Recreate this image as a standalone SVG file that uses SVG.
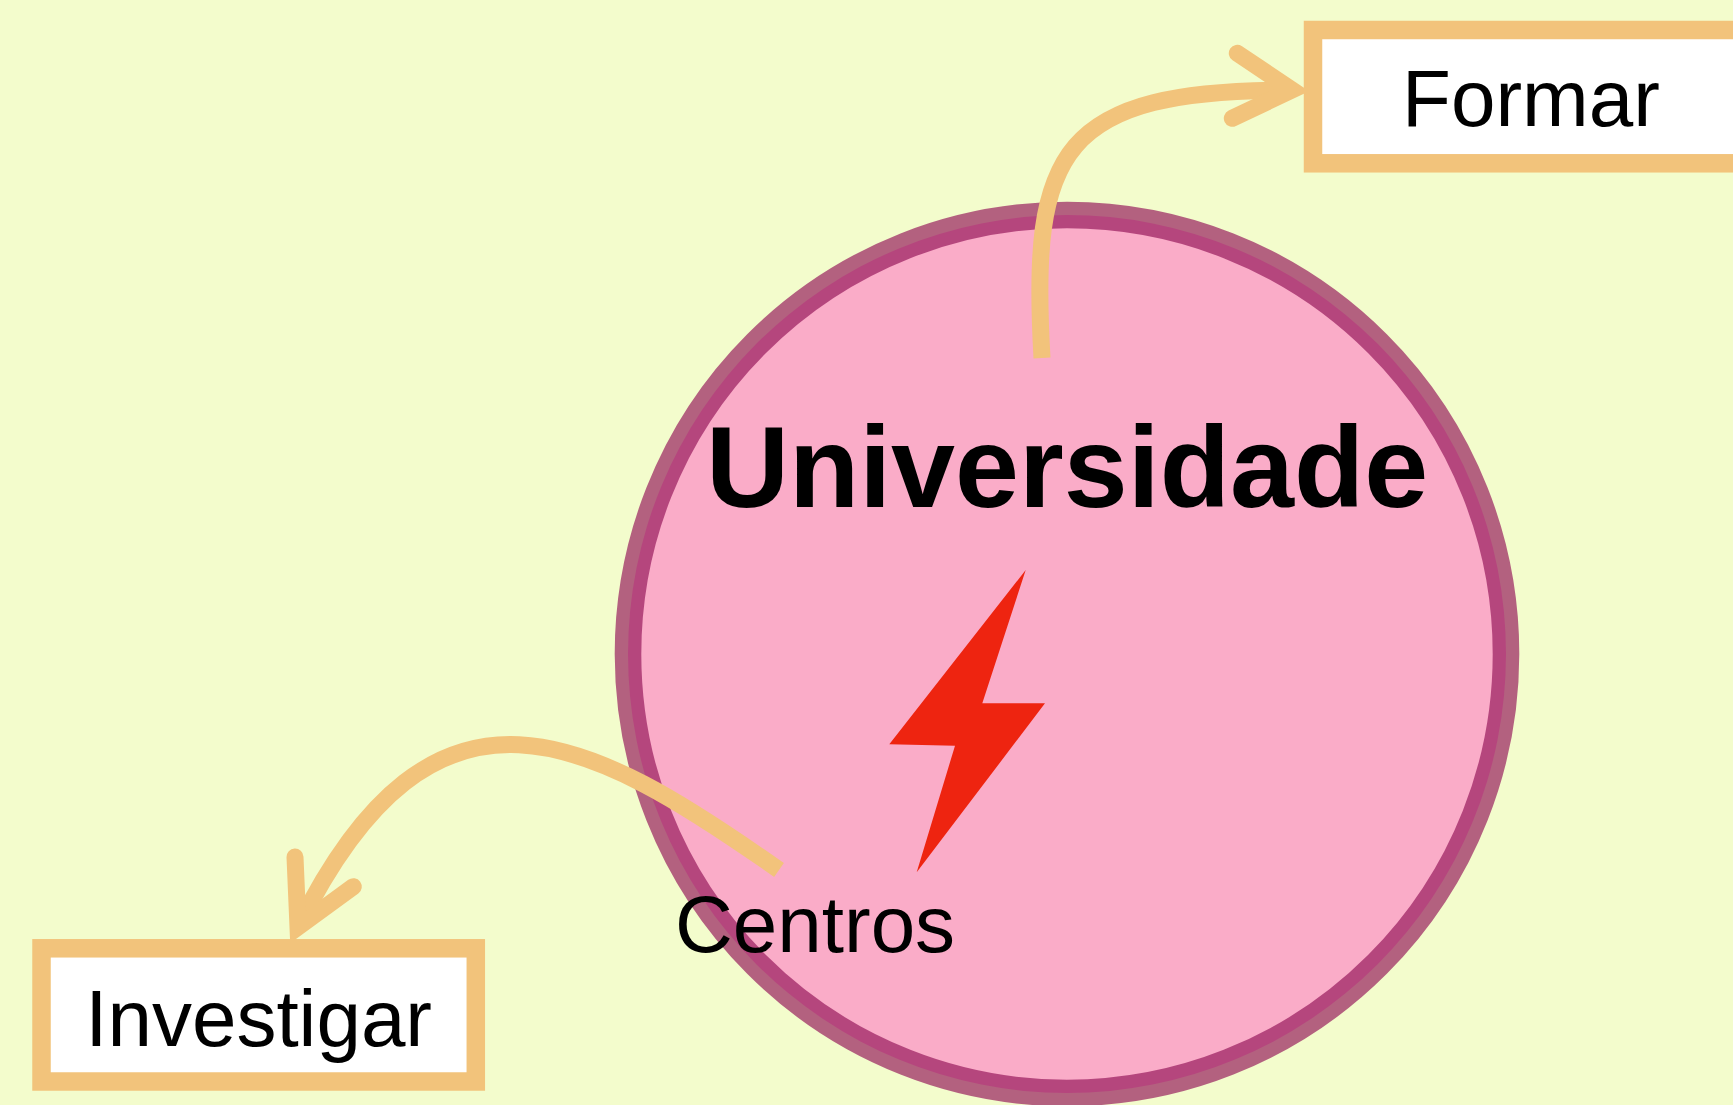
<svg xmlns="http://www.w3.org/2000/svg" width="1733" height="1105" viewBox="0 0 1733 1105">
<style>
.box{fill:#ffffff;stroke:#f2c37b;stroke-width:18.5}
.lbl{font-family:"Liberation Sans",Arial,sans-serif;font-size:80px;fill:#000000}
.shaft{fill:none;stroke:#f2c37b;stroke-width:17;stroke-linecap:butt}
.head{fill:none;stroke:#f2c37b;stroke-width:17;stroke-linecap:round;stroke-linejoin:miter;stroke-miterlimit:6}
</style>
<rect x="0" y="0" width="1733" height="1105" fill="#f3fccc"/>
<g id="universidade">
<circle cx="1067" cy="654" r="439" fill="#faacc8" stroke="#911056" stroke-opacity="0.66" stroke-width="26.6"/>
<text x="1067" y="507" text-anchor="middle" style="font-family:'Liberation Sans',Arial,sans-serif;font-size:115px;font-weight:bold;fill:#000">Universidade</text>
<polygon points="1025.7,570 889.3,744.3 955,745.7 916.7,872.3 1045,703.3 982.3,703.3" fill="#ee2410"/>
</g>
<g id="connectors">
<path class="shaft" d="M1042,358 C1030,150 1060,90 1292,90"/>
<polyline class="head" points="1237.3,53.3 1292,90 1232.3,118.3"/>
<path class="shaft" d="M779,870 C590,737 435,650 298,927"/>
<polyline class="head" points="295,857 298,927 353.3,886.7"/>
</g>
<g id="centros">
<text class="lbl" x="675" y="952">Centros</text>
</g>
<g id="formar">
<rect class="box" x="1313" y="30" width="436" height="133.3"/>
<text class="lbl" x="1531" y="126" text-anchor="middle">Formar</text>
</g>
<g id="investigar">
<rect class="box" x="41.5" y="948.3" width="434.3" height="133.2"/>
<text class="lbl" x="258.6" y="1045.5" text-anchor="middle">Investigar</text>
</g>
</svg>
